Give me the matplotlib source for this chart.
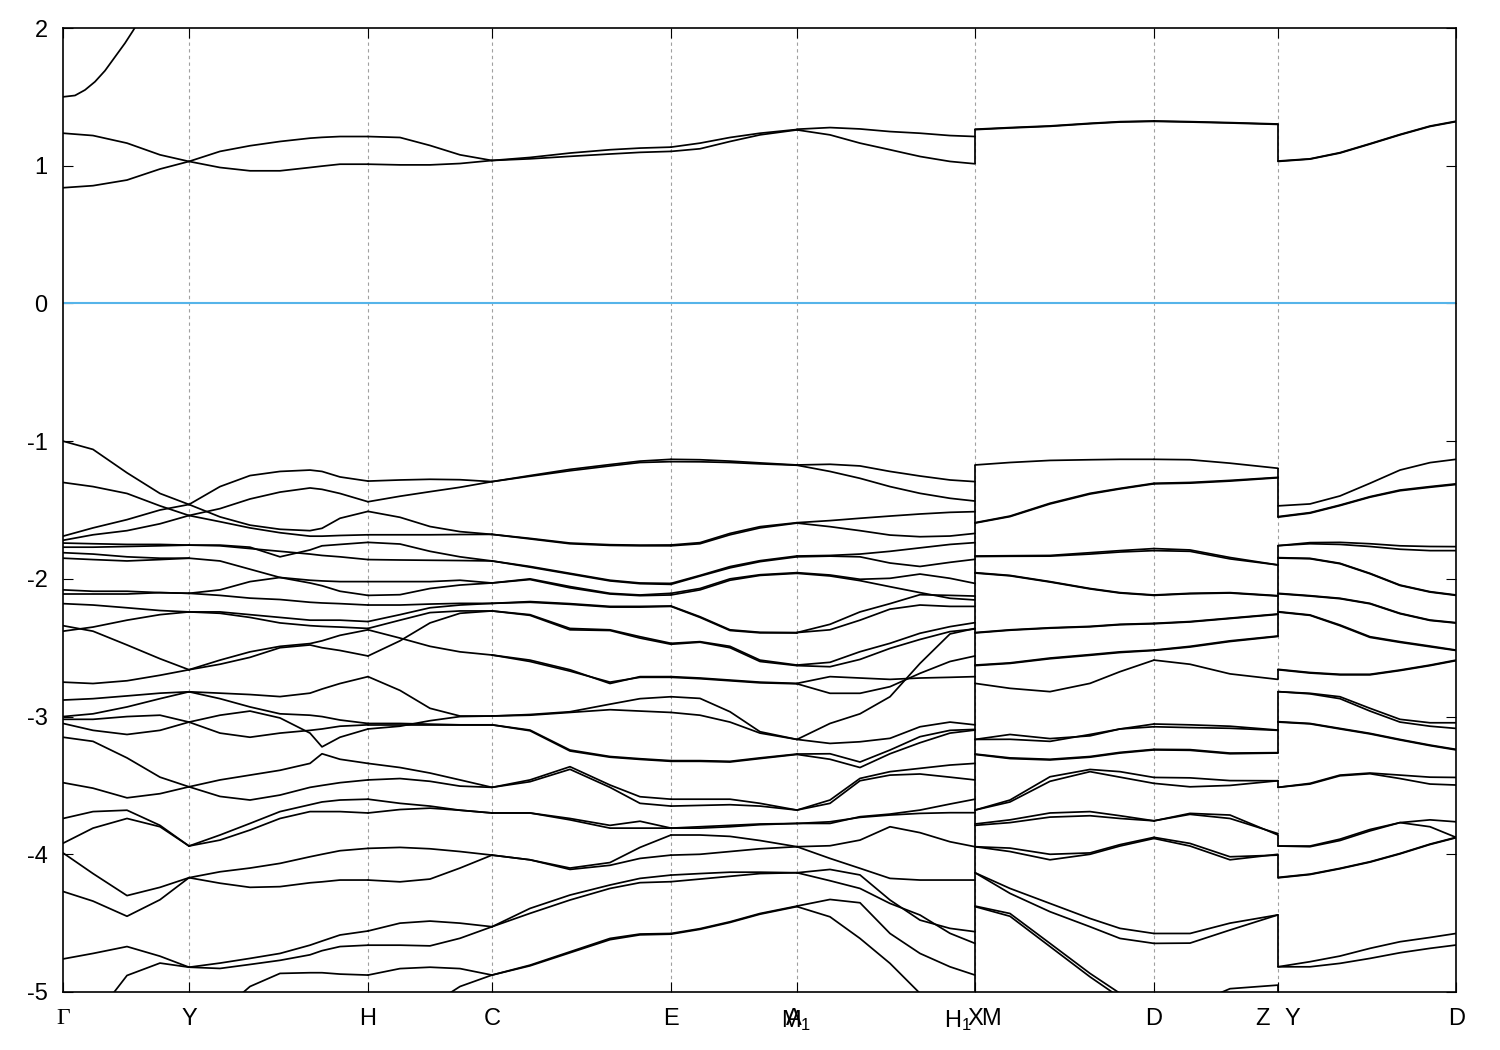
import matplotlib
matplotlib.use("Agg")
import matplotlib.pyplot as plt
from matplotlib.transforms import offset_copy

plt.rcParams['font.family'] = ['Liberation Sans', 'DejaVu Sans']
plt.rcParams['axes.unicode_minus'] = False
plt.rcParams['mathtext.fontset'] = 'custom'
plt.rcParams['mathtext.rm'] = 'Liberation Sans'
plt.rcParams['mathtext.it'] = 'Liberation Sans'

# ---------------- data ----------------
hs_k = [0.000, 0.126, 0.305, 0.429, 0.608, 0.734, 0.912, 1.091, 1.215, 1.393]
y_ticks = [-5, -4, -3, -2, -1, 0, 1, 2]
fermi = 0.0

# steep conduction band leaving Gamma
gamma_band_k = [0.000, 0.012, 0.022, 0.032, 0.042, 0.052, 0.062, 0.070, 0.080]
gamma_band_e = [1.50, 1.51, 1.55, 1.61, 1.69, 1.79, 1.89, 1.98, 2.10]

# Gamma -> Y
seg1_k = [0.000, 0.030, 0.064, 0.097, 0.126]
seg1_cond = [[1.236, 1.219, 1.164, 1.079, 1.031], [0.84, 0.855, 0.896, 0.976, 1.031]]
seg1_val = [
    [-1.00, -1.06, -1.23, -1.38, -1.46], [-1.69, -1.63, -1.57, -1.50, -1.46],
    [-1.30, -1.33, -1.38, -1.47, -1.54], [-1.72, -1.68, -1.65, -1.60, -1.54],
    [-1.74, -1.745, -1.75, -1.75, -1.755], [-1.77, -1.77, -1.765, -1.76, -1.755],
    [-1.81, -1.82, -1.84, -1.85, -1.85], [-1.85, -1.86, -1.87, -1.86, -1.85],
    [-2.08, -2.09, -2.09, -2.10, -2.105], [-2.11, -2.11, -2.11, -2.10, -2.105],
    [-2.18, -2.19, -2.21, -2.23, -2.24], [-2.38, -2.35, -2.30, -2.26, -2.24],
    [-2.34, -2.38, -2.48, -2.58, -2.66], [-2.75, -2.76, -2.74, -2.70, -2.66],
    [-2.88, -2.87, -2.85, -2.83, -2.82], [-3.00, -2.98, -2.93, -2.87, -2.82],
    [-3.02, -3.02, -3.00, -2.99, -3.04], [-3.05, -3.10, -3.13, -3.10, -3.04],
    [-3.15, -3.18, -3.30, -3.44, -3.51], [-3.48, -3.52, -3.59, -3.56, -3.51],
    [-3.74, -3.69, -3.68, -3.79, -3.94], [-3.92, -3.81, -3.74, -3.80, -3.94],
    [-3.99, -4.14, -4.30, -4.24, -4.17], [-4.27, -4.34, -4.45, -4.33, -4.17],
    [-4.76, -4.72, -4.67, -4.74, -4.82], [-5.60, -5.20, -4.88, -4.79, -4.82],
]

# Y -> H
seg2_k = [0.126, 0.157, 0.187, 0.217, 0.247, 0.259, 0.277, 0.305]
seg2_cond = [[1.031, 0.987, 0.963, 0.963, 0.987, 0.997, 1.011, 1.011],
             [1.031, 1.104, 1.145, 1.176, 1.200, 1.206, 1.212, 1.212]]
seg2_val = [
    [-1.46, -1.33, -1.25, -1.22, -1.21, -1.22, -1.26, -1.29],
    [-1.54, -1.49, -1.42, -1.37, -1.34, -1.35, -1.38, -1.44],
    [-1.46, -1.55, -1.61, -1.64, -1.65, -1.633, -1.56, -1.51],
    [-1.54, -1.585, -1.63, -1.665, -1.69, -1.69, -1.685, -1.68],
    [-1.755, -1.755, -1.77, -1.84, -1.79, -1.76, -1.75, -1.735],
    [-1.755, -1.76, -1.78, -1.80, -1.82, -1.83, -1.84, -1.86],
    [-1.85, -1.87, -1.93, -1.99, -2.01, -2.015, -2.02, -2.02],
    [-2.105, -2.08, -2.02, -1.99, -2.03, -2.05, -2.09, -2.12],
    [-2.105, -2.12, -2.14, -2.15, -2.17, -2.175, -2.18, -2.19],
    [-2.24, -2.25, -2.28, -2.32, -2.34, -2.345, -2.35, -2.36],
    [-2.24, -2.24, -2.26, -2.28, -2.30, -2.30, -2.30, -2.31],
    [-2.66, -2.59, -2.53, -2.49, -2.47, -2.45, -2.41, -2.37],
    [-2.66, -2.62, -2.57, -2.50, -2.48, -2.50, -2.52, -2.56],
    [-2.82, -2.83, -2.84, -2.855, -2.83, -2.80, -2.76, -2.71],
    [-2.82, -2.87, -2.93, -2.98, -2.99, -3.00, -3.025, -3.05],
    [-3.04, -2.99, -2.96, -3.01, -3.12, -3.22, -3.15, -3.09],
    [-3.04, -3.12, -3.15, -3.12, -3.10, -3.09, -3.07, -3.06],
    [-3.51, -3.46, -3.425, -3.39, -3.34, -3.27, -3.31, -3.34],
    [-3.51, -3.58, -3.606, -3.57, -3.514, -3.50, -3.48, -3.46],
    [-3.94, -3.86, -3.776, -3.69, -3.64, -3.62, -3.606, -3.60],
    [-3.94, -3.897, -3.824, -3.74, -3.69, -3.69, -3.69, -3.70],
    [-4.17, -4.127, -4.10, -4.066, -4.018, -4.00, -3.974, -3.957],
    [-4.17, -4.21, -4.24, -4.235, -4.207, -4.20, -4.187, -4.187],
    [-4.82, -4.79, -4.756, -4.72, -4.66, -4.63, -4.586, -4.557],
    [-4.82, -4.829, -4.80, -4.77, -4.73, -4.70, -4.67, -4.66],
    [-5.40, -5.15, -4.96, -4.865, -4.86, -4.86, -4.87, -4.877],
]

# H -> C
seg3_k = [0.305, 0.337, 0.367, 0.397, 0.429]
seg3_cond = [[1.212, 1.205, 1.147, 1.079, 1.038], [1.011, 1.006, 1.006, 1.016, 1.038]]
seg3_val = [
    [-1.29, -1.282, -1.277, -1.28, -1.294], [-1.44, -1.40, -1.367, -1.335, -1.294],
    [-1.51, -1.553, -1.62, -1.657, -1.677], [-1.68, -1.68, -1.68, -1.678, -1.677],
    [-1.735, -1.747, -1.80, -1.84, -1.87], [-1.86, -1.863, -1.865, -1.867, -1.87],
    [-2.02, -2.02, -2.02, -2.01, -2.03], [-2.12, -2.115, -2.07, -2.045, -2.03],
    [-2.19, -2.19, -2.183, -2.178, -2.178], [-2.31, -2.26, -2.21, -2.19, -2.178],
    [-2.36, -2.30, -2.245, -2.233, -2.233], [-2.37, -2.43, -2.49, -2.53, -2.553],
    [-2.56, -2.45, -2.32, -2.25, -2.233], [-2.71, -2.81, -2.94, -2.996, -2.996],
    [-3.05, -3.05, -3.055, -3.06, -3.06], [-3.09, -3.07, -3.03, -3.00, -2.996],
    [-3.06, -3.06, -3.06, -3.06, -3.06], [-3.34, -3.37, -3.41, -3.46, -3.514],
    [-3.46, -3.45, -3.47, -3.505, -3.514], [-3.60, -3.63, -3.65, -3.68, -3.70],
    [-3.70, -3.675, -3.665, -3.68, -3.70], [-3.957, -3.95, -3.96, -3.98, -4.006],
    [-4.187, -4.20, -4.18, -4.10, -4.006], [-4.557, -4.50, -4.485, -4.50, -4.526],
    [-4.66, -4.66, -4.665, -4.61, -4.526], [-4.877, -4.83, -4.82, -4.83, -4.877],
    [-5.40, -5.30, -5.10, -4.96, -4.877],
]

# C -> E
seg4_k = [0.429, 0.467, 0.507, 0.547, 0.577, 0.608]
seg4_cond = [[1.038, 1.06, 1.092, 1.116, 1.128, 1.135], [1.038, 1.05, 1.068, 1.085, 1.097, 1.104]]
seg4_val = [
    [-1.294, -1.25, -1.205, -1.17, -1.145, -1.132],
    [-1.294, -1.255, -1.215, -1.18, -1.155, -1.149],
    [-1.677, -1.706, -1.74, -1.752, -1.755, -1.754],
    [-1.677, -1.71, -1.745, -1.757, -1.76, -1.76],
    [-1.87, -1.91, -1.96, -2.01, -2.03, -2.033],
    [-1.87, -1.915, -1.965, -2.015, -2.035, -2.04],
    [-2.03, -2.00, -2.056, -2.105, -2.117, -2.105],
    [-2.03, -2.005, -2.065, -2.11, -2.122, -2.117],
    [-2.178, -2.165, -2.18, -2.20, -2.20, -2.197],
    [-2.178, -2.17, -2.185, -2.205, -2.205, -2.20],
    [-2.233, -2.26, -2.36, -2.37, -2.42, -2.468],
    [-2.233, -2.265, -2.37, -2.375, -2.43, -2.475],
    [-2.553, -2.59, -2.66, -2.76, -2.71, -2.71],
    [-2.553, -2.60, -2.67, -2.75, -2.715, -2.715],
    [-2.996, -2.985, -2.965, -2.91, -2.87, -2.856],
    [-2.996, -2.99, -2.97, -2.95, -2.96, -2.97],
    [-3.06, -3.098, -3.243, -3.29, -3.306, -3.32],
    [-3.06, -3.103, -3.25, -3.295, -3.311, -3.325],
    [-3.514, -3.46, -3.364, -3.497, -3.582, -3.60],
    [-3.514, -3.473, -3.383, -3.514, -3.63, -3.65],
    [-3.70, -3.70, -3.74, -3.79, -3.76, -3.81],
    [-3.70, -3.70, -3.75, -3.81, -3.81, -3.81],
    [-4.006, -4.04, -4.10, -4.06, -3.95, -3.86],
    [-4.006, -4.04, -4.11, -4.08, -4.03, -4.006],
    [-4.526, -4.393, -4.296, -4.223, -4.175, -4.151],
    [-4.526, -4.429, -4.332, -4.248, -4.206, -4.199],
    [-4.877, -4.805, -4.708, -4.611, -4.579, -4.575],
    [-4.877, -4.81, -4.715, -4.62, -4.585, -4.58],
]

# E -> M1
seg5_k = [0.608, 0.637, 0.667, 0.697, 0.734]
seg5_cond = [[1.135, 1.164, 1.205, 1.236, 1.263], [1.104, 1.123, 1.176, 1.224, 1.26]]
seg5_val = [
    [-1.132, -1.135, -1.145, -1.158, -1.173], [-1.149, -1.15, -1.155, -1.165, -1.175],
    [-1.754, -1.737, -1.67, -1.621, -1.592], [-1.76, -1.745, -1.68, -1.63, -1.595],
    [-2.033, -1.975, -1.911, -1.868, -1.834], [-2.04, -1.98, -1.92, -1.875, -1.84],
    [-2.105, -2.07, -2.00, -1.97, -1.955], [-2.117, -2.08, -2.01, -1.975, -1.96],
    [-2.197, -2.275, -2.37, -2.388, -2.39], [-2.20, -2.28, -2.375, -2.392, -2.393],
    [-2.468, -2.456, -2.49, -2.59, -2.626], [-2.475, -2.46, -2.50, -2.60, -2.63],
    [-2.71, -2.72, -2.735, -2.75, -2.759], [-2.715, -2.725, -2.74, -2.755, -2.762],
    [-2.856, -2.868, -2.965, -3.11, -3.166], [-2.97, -2.99, -3.04, -3.12, -3.166],
    [-3.32, -3.32, -3.325, -3.30, -3.272], [-3.325, -3.325, -3.33, -3.305, -3.275],
    [-3.60, -3.60, -3.60, -3.63, -3.679], [-3.65, -3.645, -3.64, -3.65, -3.679],
    [-3.81, -3.80, -3.79, -3.78, -3.776], [-3.81, -3.81, -3.80, -3.785, -3.776],
    [-3.86, -3.86, -3.87, -3.90, -3.945], [-4.006, -4.00, -3.98, -3.96, -3.945],
    [-4.151, -4.14, -4.13, -4.13, -4.134], [-4.199, -4.18, -4.16, -4.14, -4.134],
    [-4.575, -4.54, -4.49, -4.43, -4.376], [-4.58, -4.545, -4.495, -4.435, -4.38],
]

# A -> X
seg6_k = [0.734, 0.767, 0.797, 0.827, 0.857, 0.887, 0.912]
seg6_cond = [[1.265, 1.277, 1.267, 1.248, 1.236, 1.219, 1.212],
             [1.26, 1.224, 1.164, 1.116, 1.067, 1.031, 1.014]]
seg6_val = [
    [-1.173, -1.168, -1.18, -1.22, -1.253, -1.282, -1.294],
    [-1.175, -1.22, -1.27, -1.33, -1.379, -1.415, -1.435],
    [-1.592, -1.577, -1.56, -1.544, -1.529, -1.517, -1.512],
    [-1.595, -1.621, -1.65, -1.682, -1.694, -1.689, -1.67],
    [-1.834, -1.83, -1.82, -1.80, -1.775, -1.75, -1.737],
    [-1.84, -1.835, -1.84, -1.885, -1.91, -1.88, -1.858],
    [-1.955, -1.972, -2.003, -1.996, -1.965, -1.996, -2.033],
    [-1.96, -1.979, -2.013, -2.057, -2.10, -2.141, -2.153],
    [-2.39, -2.33, -2.24, -2.18, -2.115, -2.12, -2.125],
    [-2.39, -2.37, -2.30, -2.22, -2.19, -2.20, -2.20],
    [-2.626, -2.606, -2.529, -2.468, -2.395, -2.347, -2.318],
    [-2.63, -2.638, -2.585, -2.505, -2.44, -2.383, -2.364],
    [-2.759, -2.71, -2.72, -2.73, -2.72, -2.715, -2.71],
    [-2.762, -2.831, -2.831, -2.783, -2.686, -2.60, -2.56],
    [-3.166, -3.05, -2.98, -2.856, -2.614, -2.40, -2.36],
    [-3.166, -3.195, -3.183, -3.158, -3.074, -3.04, -3.06],
    [-3.272, -3.27, -3.33, -3.243, -3.146, -3.10, -3.093],
    [-3.275, -3.31, -3.37, -3.27, -3.19, -3.12, -3.098],
    [-3.679, -3.606, -3.449, -3.40, -3.376, -3.352, -3.34],
    [-3.679, -3.63, -3.466, -3.425, -3.417, -3.44, -3.46],
    [-3.776, -3.776, -3.727, -3.708, -3.679, -3.635, -3.60],
    [-3.776, -3.764, -3.732, -3.715, -3.703, -3.698, -3.698],
    [-3.945, -3.938, -3.897, -3.80, -3.843, -3.909, -3.945],
    [-3.945, -4.03, -4.102, -4.175, -4.187, -4.187, -4.187],
    [-4.134, -4.11, -4.15, -4.332, -4.478, -4.538, -4.562],
    [-4.134, -4.192, -4.248, -4.357, -4.441, -4.574, -4.647],
    [-4.376, -4.328, -4.352, -4.575, -4.72, -4.817, -4.877],
    [-4.38, -4.454, -4.611, -4.792, -5.01, -5.20, -5.35],
]

# M -> D
seg7_k = [0.912, 0.947, 0.987, 1.027, 1.057, 1.091]
seg7_cond = [[1.265, 1.277, 1.289, 1.308, 1.32, 1.325], [1.262, 1.274, 1.286, 1.305, 1.317, 1.322]]
seg7_val = [
    [-1.173, -1.155, -1.14, -1.135, -1.132, -1.132],
    [-1.592, -1.544, -1.451, -1.379, -1.343, -1.306],
    [-1.595, -1.548, -1.456, -1.384, -1.347, -1.31],
    [-1.834, -1.832, -1.83, -1.81, -1.795, -1.78],
    [-1.838, -1.836, -1.835, -1.82, -1.805, -1.795],
    [-1.955, -1.975, -2.02, -2.07, -2.10, -2.117],
    [-1.958, -1.978, -2.023, -2.073, -2.103, -2.12],
    [-2.39, -2.37, -2.355, -2.345, -2.33, -2.323],
    [-2.393, -2.373, -2.358, -2.348, -2.333, -2.326],
    [-2.626, -2.61, -2.575, -2.55, -2.53, -2.517],
    [-2.63, -2.614, -2.58, -2.555, -2.535, -2.52],
    [-2.759, -2.795, -2.819, -2.759, -2.674, -2.59],
    [-3.166, -3.13, -3.16, -3.14, -3.09, -3.054],
    [-3.166, -3.165, -3.18, -3.13, -3.09, -3.074],
    [-3.272, -3.30, -3.31, -3.29, -3.26, -3.238],
    [-3.275, -3.305, -3.315, -3.295, -3.265, -3.242],
    [-3.679, -3.606, -3.437, -3.384, -3.40, -3.442],
    [-3.679, -3.62, -3.47, -3.40, -3.44, -3.485],
    [-3.78, -3.75, -3.70, -3.69, -3.72, -3.757],
    [-3.79, -3.77, -3.73, -3.72, -3.74, -3.757],
    [-3.945, -3.955, -4.00, -3.99, -3.93, -3.877],
    [-3.945, -3.98, -4.04, -4.00, -3.94, -3.885],
    [-4.134, -4.248, -4.357, -4.466, -4.538, -4.575],
    [-4.134, -4.284, -4.417, -4.526, -4.611, -4.647],
    [-4.376, -4.43, -4.647, -4.865, -5.01, -5.20],
    [-4.38, -4.45, -4.67, -4.89, -5.04, -5.25],
]

# D -> Z
seg8_k = [1.091, 1.127, 1.167, 1.215]
seg8_cond = [[1.325, 1.32, 1.313, 1.303], [1.322, 1.317, 1.31, 1.30]]
seg8_val = [
    [-1.132, -1.135, -1.16, -1.197], [-1.306, -1.30, -1.285, -1.263],
    [-1.31, -1.305, -1.29, -1.266], [-1.78, -1.79, -1.845, -1.899],
    [-1.795, -1.80, -1.855, -1.899], [-2.117, -2.105, -2.10, -2.122],
    [-2.12, -2.108, -2.103, -2.125], [-2.323, -2.31, -2.285, -2.255],
    [-2.326, -2.313, -2.288, -2.258], [-2.517, -2.49, -2.45, -2.415],
    [-2.52, -2.495, -2.455, -2.418], [-2.59, -2.62, -2.69, -2.73],
    [-3.054, -3.06, -3.07, -3.098], [-3.074, -3.08, -3.085, -3.10],
    [-3.238, -3.24, -3.265, -3.262], [-3.242, -3.245, -3.27, -3.265],
    [-3.442, -3.445, -3.465, -3.466], [-3.485, -3.51, -3.50, -3.466],
    [-3.757, -3.703, -3.715, -3.86], [-3.757, -3.71, -3.74, -3.85],
    [-3.877, -3.921, -4.018, -4.006], [-3.885, -3.94, -4.04, -4.00],
    [-4.575, -4.575, -4.50, -4.44], [-4.647, -4.645, -4.55, -4.44],
    [-5.30, -5.10, -4.976, -4.95],
]

# Y -> D
seg9_k = [1.215, 1.247, 1.277, 1.307, 1.337, 1.367, 1.393]
seg9_cond = [[1.031, 1.048, 1.092, 1.157, 1.224, 1.285, 1.32],
             [1.034, 1.05, 1.095, 1.16, 1.227, 1.288, 1.323]]
seg9_val = [
    [-1.47, -1.456, -1.398, -1.306, -1.21, -1.156, -1.132],
    [-1.548, -1.519, -1.464, -1.403, -1.355, -1.33, -1.31],
    [-1.552, -1.523, -1.468, -1.407, -1.36, -1.335, -1.315],
    [-1.759, -1.737, -1.735, -1.745, -1.76, -1.765, -1.766],
    [-1.759, -1.745, -1.75, -1.765, -1.785, -1.795, -1.795],
    [-1.846, -1.851, -1.887, -1.96, -2.045, -2.093, -2.117],
    [-1.849, -1.854, -1.89, -1.963, -2.048, -2.096, -2.12],
    [-2.105, -2.122, -2.141, -2.178, -2.25, -2.299, -2.318],
    [-2.108, -2.125, -2.144, -2.181, -2.253, -2.302, -2.321],
    [-2.238, -2.262, -2.335, -2.42, -2.456, -2.488, -2.517],
    [-2.241, -2.265, -2.34, -2.425, -2.461, -2.493, -2.52],
    [-2.657, -2.68, -2.693, -2.693, -2.662, -2.626, -2.59],
    [-2.66, -2.684, -2.697, -2.697, -2.666, -2.63, -2.594],
    [-2.819, -2.831, -2.856, -2.94, -3.02, -3.045, -3.045],
    [-2.819, -2.835, -2.87, -2.96, -3.04, -3.07, -3.086],
    [-3.037, -3.05, -3.086, -3.122, -3.166, -3.207, -3.238],
    [-3.04, -3.053, -3.09, -3.126, -3.17, -3.211, -3.242],
    [-3.514, -3.485, -3.425, -3.41, -3.425, -3.44, -3.442],
    [-3.514, -3.49, -3.43, -3.415, -3.45, -3.49, -3.497],
    [-3.94, -3.945, -3.90, -3.83, -3.77, -3.75, -3.764],
    [-3.94, -3.94, -3.89, -3.82, -3.77, -3.80, -3.877],
    [-4.168, -4.144, -4.102, -4.054, -3.994, -3.926, -3.877],
    [-4.171, -4.147, -4.105, -4.057, -3.997, -3.929, -3.88],
    [-4.817, -4.78, -4.739, -4.683, -4.635, -4.604, -4.575],
    [-4.817, -4.817, -4.792, -4.756, -4.715, -4.683, -4.659],
]

# vertical jumps at the path breaks: (k, lower, upper)
jumps = [
    (0.912, 1.014, 1.265), (0.912, -5.5, -1.173),
    (1.215, 1.031, 1.303), (1.215, -1.548, -1.197), (1.215, -2.415, -1.759),
    (1.215, -2.73, -2.657), (1.215, -3.262, -2.819), (1.215, -3.514, -3.466),
    (1.215, -3.94, -3.86), (1.215, -4.168, -4.006), (1.215, -4.817, -4.44),
    (1.215, -5.1, -4.95),
]

# tick labels: (k, text, pixel offset)
x_labels = [
    (0.000, "Γ", 0), (0.126, "Y", 0), (0.305, "H", 0), (0.429, "C", 0),
    (0.608, "E", 0), (0.734, r"M$_1$", -1), (0.734, "A", -3),
    (0.912, r"H$_1$", -17), (0.912, "X", 0), (0.912, "M", 16),
    (1.091, "D", 0), (1.215, "Z", -15), (1.215, "Y", 14), (1.393, "D", 1),
]

# ---------------- plot ----------------
fig = plt.figure(figsize=(15, 10.5), dpi=100)
ax = fig.add_axes([63 / 1500, 1 - 992 / 1050, (1456 - 63) / 1500, (992 - 28) / 1050])

line_kw = dict(color="black", lw=1.25, solid_joinstyle="round", solid_capstyle="round", zorder=3)

segments = [
    (seg1_k, seg1_val, seg1_cond), (seg2_k, seg2_val, seg2_cond),
    (seg3_k, seg3_val, seg3_cond), (seg4_k, seg4_val, seg4_cond),
    (seg5_k, seg5_val, seg5_cond), (seg6_k, seg6_val, seg6_cond),
    (seg7_k, seg7_val, seg7_cond), (seg8_k, seg8_val, seg8_cond),
    (seg9_k, seg9_val, seg9_cond),
]
for k, vb, cb in segments:
    for band in vb + cb:
        ax.plot(k, band, **line_kw)
ax.plot(gamma_band_k, gamma_band_e, **line_kw)

for k, lo, hi in jumps:
    ax.vlines(k, lo, hi, color="black", lw=1.25, zorder=3)

for k in hs_k[1:-1]:
    ax.axvline(k, color="#a0a0a0", lw=0.8, ls=(0, (3, 3)), zorder=1)

ax.axhline(fermi, color="#56b4e9", lw=1.5, zorder=2)

ax.set_xlim(hs_k[0], hs_k[-1])
ax.set_ylim(-5, 2)
ax.set_yticks(y_ticks)
ax.set_yticklabels([str(t) for t in y_ticks])
ax.set_xticks(hs_k)
ax.set_xticklabels([])
ax.tick_params(axis="both", direction="in", length=7.5, width=0.8,
               top=True, right=True, labelsize=17, pad=11)
ax.tick_params(axis="x", labelbottom=False)
for s in ax.spines.values():
    s.set_linewidth(1.2)

base = ax.get_xaxis_transform()
for k, txt, dx in x_labels:
    tr = offset_copy(base, fig=fig, x=dx, y=0, units="dots")
    fam = ["Liberation Serif", "DejaVu Serif"] if txt == "Γ" else ["Liberation Sans", "DejaVu Sans"]
    ax.text(k, -0.017, txt, transform=tr, ha="center", va="top", fontsize=17, family=fam)

fig.savefig("out.png", dpi=100)
